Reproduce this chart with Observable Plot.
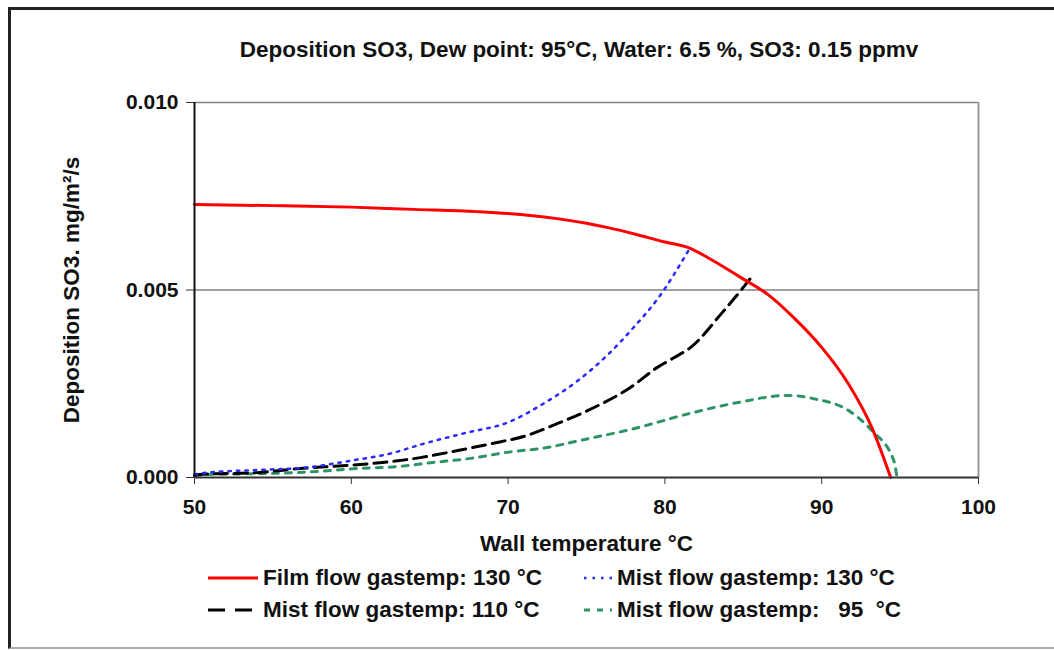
<!DOCTYPE html>
<html><head><meta charset="utf-8">
<script src="https://cdn.jsdelivr.net/npm/d3@7"></script>
<script src="https://cdn.jsdelivr.net/npm/@observablehq/plot@0.6"></script>
<style>
body{margin:0;background:#fff;font-family:"Liberation Sans",Arial,sans-serif;}
#page{position:relative;width:1054px;height:650px;overflow:hidden;background:#fff;}
#frame{position:absolute;left:8px;top:7px;width:1060px;height:642px;border-left:3px solid #222;border-top:3px solid #222;border-bottom:2px solid #aaa;box-sizing:border-box;}
#title{position:absolute;left:0;width:1158px;top:37px;text-align:center;font-weight:bold;font-size:22.5px;color:#111;}
#chart{position:absolute;left:0;top:70px;}
.leg{position:absolute;display:flex;align-items:center;font-weight:bold;font-size:22.5px;color:#111;white-space:pre;}
.leg svg{margin-right:5px;}
</style></head>
<body><div id="page"><div id="frame"></div><div id="title"></div><div id="chart"></div><div id="legend"></div></div>
<script>
const titleText = "Deposition SO3, Dew point: 95°C, Water: 6.5 %, SO3: 0.15 ppmv";
const xLabel = "Wall temperature °C";
const yLabel = "Deposition SO3. mg/m²/s";
const xTicks = [50, 60, 70, 80, 90, 100];
const yTicks = [0, 0.005, 0.010];

// Film flow gastemp 130 °C
const filmX = [50, 55, 60, 64, 68, 70, 73, 75, 76.3, 78, 80, 81.5, 83, 84.85, 86.6, 88.2, 90, 91.7, 93.2, 94.4];
const filmY = [0.00728, 0.00725, 0.00721, 0.00715, 0.00709, 0.00704, 0.00691, 0.00678, 0.00667, 0.0065, 0.00628, 0.00613, 0.0058, 0.00533, 0.00487, 0.00427, 0.00347, 0.0025, 0.00133, 0.0];
// Mist flow gastemp 130 °C
const mist130X = [50, 50.8, 54, 57.2, 60, 62.5, 64.6, 67.4, 70, 72.25, 74.5, 76.3, 78, 79.6, 81.5];
const mist130Y = [0.00008, 0.00013, 0.0002, 0.00027, 0.00045, 0.00064, 0.0009, 0.0012, 0.00147, 0.00197, 0.0026, 0.00325, 0.004, 0.0048, 0.00605];
// Mist flow gastemp 110 °C
const mist110X = [50, 50.3, 54, 56.7, 59.7, 62, 64.4, 66.8, 68.9, 71.2, 73.1, 75.1, 77.8, 79.5, 80.6, 81.65, 83.6, 85, 85.6];
const mist110Y = [0.00005, 0.00008, 0.00013, 0.00024, 0.00032, 0.0004, 0.00053, 0.00072, 0.0009, 0.00112, 0.00143, 0.00179, 0.0024, 0.00293, 0.0032, 0.00347, 0.00437, 0.00507, 0.00539];
// Mist flow gastemp 95 °C
const mist95X = [50, 50.8, 55, 57.8, 60.4, 62.9, 65.2, 67.6, 69.9, 72.5, 74.6, 78, 81.5, 84.65, 87.85, 89.5, 91.7, 93.2, 94.6, 94.8];
const mist95Y = [0.00005, 0.00008, 0.00011, 0.00016, 0.00024, 0.00029, 0.0004, 0.00051, 0.00067, 0.0008, 0.00099, 0.0013, 0.0017, 0.002, 0.00219, 0.0021, 0.00179, 0.00125, 0.00045, 0.0];

const seriesNames = ["Film flow gastemp: 130 °C", "Mist flow gastemp: 130 °C", "Mist flow gastemp: 110 °C", "Mist flow gastemp:   95  °C"];
const seriesColors = ["#ff0000", "#2a2aff", "#000000", "#2e9466"];
const seriesDash = [null, "2.5,6", "13,7", "6,7"];
const seriesWidth = [3, 2.5, 3, 3];

const toRows = (xs, ys) => xs.map((x, i) => ({x, y: ys[i]}));
const seriesData = [toRows(filmX, filmY), toRows(mist130X, mist130Y), toRows(mist110X, mist110Y), toRows(mist95X, mist95Y)];

document.getElementById("title").textContent = titleText;

const lineMarks = seriesData.map((d, i) => Plot.line(d, {
  x: "x", y: "y", stroke: seriesColors[i], strokeWidth: seriesWidth[i],
  strokeDasharray: seriesDash[i], curve: "monotone-x"
}));
const ordered = [lineMarks[3], lineMarks[2], lineMarks[1], lineMarks[0]];

const chart = Plot.plot({
  width: 1054, height: 500,
  marginLeft: 194, marginRight: 76, marginTop: 32, marginBottom: 93,
  style: {fontFamily: "'Liberation Sans', Arial, sans-serif", fontSize: "21px", fontWeight: "bold", color: "#111", background: "transparent", overflow: "visible"},
  x: {domain: [50, 100]},
  y: {domain: [0, 0.010]},
  marks: [
    Plot.ruleY(yTicks.filter(v => v > 0), {stroke: "#808080", strokeWidth: 1.5}),
    Plot.ruleX([100], {stroke: "#999", strokeWidth: 2}),
    ...ordered,
    Plot.ruleX([50], {stroke: "#111", strokeWidth: 2}),
    Plot.ruleY([0], {stroke: "#333", strokeWidth: 2}),
    Plot.axisX({ticks: xTicks, tickSize: 7, tickPadding: 15, tickFormat: d3.format("d"), stroke: "#333",
      label: null}),
    Plot.axisX({ticks: [], label: xLabel, labelAnchor: "center", labelArrow: "none", labelOffset: 73, fontSize: 22.5}),
    Plot.axisY({ticks: yTicks, tickSize: 8, tickPadding: 8, tickFormat: d3.format(".3f"), stroke: "#333",
      label: null}),
    Plot.axisY({ticks: [], label: yLabel, labelAnchor: "center", labelArrow: "none", labelOffset: 131, fontSize: 22.5})
  ]
});
document.getElementById("chart").appendChild(chart);

// legend (HTML)
const legendPos = [[208, 578], [562, 578], [208, 610], [562, 610]];
const legendSwatchStart = [0, 22, 0, 22];
const leg = document.getElementById("legend");
[0, 1, 2, 3].forEach((si, k) => {
  const div = document.createElement("div");
  div.className = "leg";
  div.style.left = legendPos[k][0] + "px";
  div.style.top = (legendPos[k][1] - 13) + "px";
  const dash = si === 2 ? "17,10" : (seriesDash[si] || "none");
  div.innerHTML = `<svg width="50" height="26"><line x1="${legendSwatchStart[k]}" x2="50" y1="13" y2="13" stroke="${seriesColors[si]}" stroke-width="${seriesWidth[si]}" stroke-dasharray="${dash}"/></svg><span></span>`;
  div.querySelector("span").textContent = seriesNames[si];
  leg.appendChild(div);
});
</script></body></html>
